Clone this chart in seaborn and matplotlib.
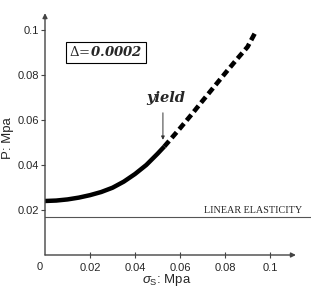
import matplotlib
matplotlib.use("Agg")
import matplotlib.pyplot as plt
import seaborn as sns
import pandas as pd

# ---- data ----
elastic_sigma = [0.0, 0.005, 0.01, 0.015, 0.02, 0.025, 0.03, 0.035, 0.04, 0.045, 0.05, 0.053]
elastic_P = [0.0240, 0.0242, 0.0247, 0.0255, 0.0266, 0.0280, 0.0299, 0.0326, 0.0360, 0.0400, 0.0450, 0.0482]
plastic_sigma = [0.053, 0.06, 0.065, 0.07, 0.075, 0.08, 0.085, 0.09, 0.0935]
plastic_P = [0.0482, 0.0563, 0.0623, 0.0685, 0.0746, 0.0807, 0.0867, 0.0925, 0.0990]
linear_sigma = [0.0, 0.118]
linear_P = [0.017, 0.017]
x_ticks = [0.02, 0.04, 0.06, 0.08, 0.1]
x_tick_labels = ["0.02", "0.04", "0.06", "0.08", "0.1"]
y_ticks = [0.02, 0.04, 0.06, 0.08, 0.1]
y_tick_labels = ["0.02", "0.04", "0.06", "0.08", "0.1"]

sns.set_style("white")
plt.rcParams['font.family'] = ['Liberation Sans', 'DejaVu Sans']
plt.rcParams['mathtext.fontset'] = 'custom'
plt.rcParams['mathtext.rm'] = 'Liberation Sans'
plt.rcParams['mathtext.it'] = 'Liberation Sans:italic'

fig = plt.figure(figsize=(3.11, 2.92), dpi=100)
ax = fig.add_axes([45/311, 37/292, 266/311, 247.5/292])

df_el = pd.DataFrame({"s": elastic_sigma, "P": elastic_P})
df_pl = pd.DataFrame({"s": plastic_sigma, "P": plastic_P})
df_li = pd.DataFrame({"s": linear_sigma, "P": linear_P})

sns.lineplot(data=df_li, x="s", y="P", ax=ax, color="#555555", lw=0.8, sort=False)
sns.lineplot(data=df_el, x="s", y="P", ax=ax, color="black", lw=3.2, sort=False,
             solid_capstyle="butt", solid_joinstyle="round")
sns.lineplot(data=df_pl, x="s", y="P", ax=ax, color="black", lw=3.3, sort=False,
             dashes=False, linestyle=(0, (1.6, 0.9)), dash_capstyle="butt")

ax.set_xlim(0, 0.1182)
ax.set_ylim(0, 0.11)
for sp in ax.spines.values():
    sp.set_visible(False)

# axes with arrows
ax.annotate("", xy=(0.1115, 0), xytext=(0, 0),
            arrowprops=dict(arrowstyle="-|>", color="#444444", lw=1.0,
                            mutation_scale=7, shrinkA=0, shrinkB=0), annotation_clip=False)
ax.annotate("", xy=(0, 0.1075), xytext=(0, 0),
            arrowprops=dict(arrowstyle="-|>", color="#444444", lw=1.0,
                            mutation_scale=7, shrinkA=0, shrinkB=0), annotation_clip=False)

ax.set_xticks(x_ticks)
ax.set_xticklabels(x_tick_labels)
ax.set_yticks(y_ticks)
ax.set_yticklabels(y_tick_labels)
ax.tick_params(axis="x", direction="inout", length=5, width=0.8, color="#444444",
               labelsize=8, pad=3, bottom=True)
ax.tick_params(axis="y", direction="out", length=3, width=0.8, color="#444444",
               labelsize=8, pad=1, left=True)
ax.set_xlabel("")
ax.set_ylabel("")
ax.text(-0.0012, -0.003, "0", ha="right", va="top", fontsize=8)

fig.text(8/311, 1 - 138/292, "P: Mpa", rotation=90, ha="center", va="center", fontsize=9.5)
fig.text(167/311, 1 - 280/292, r"$\sigma_\mathrm{S}$: Mpa", ha="center", va="center", fontsize=9.5)

ax.text(0.1142, 0.0178, "LINEAR ELASTICITY", ha="right", va="bottom",
        fontsize=7.3, family="Liberation Serif")
ax.text(0.0271, 0.0900, r"$\Delta\!=\!\mathbfit{0.0002}$", ha="center", va="center",
        fontsize=9.5, math_fontfamily="dejavuserif",
        bbox=dict(boxstyle="square,pad=0.25", fc="white", ec="black", lw=0.8))
ax.text(0.0535, 0.0665, "yield", ha="center", va="bottom", fontsize=10.5,
        family="DejaVu Serif", style="italic", weight="bold")
ax.annotate("", xy=(0.0524, 0.0512), xytext=(0.0524, 0.0632),
            arrowprops=dict(arrowstyle="-|>", color="#333333", lw=0.7, mutation_scale=5,
                            shrinkA=0, shrinkB=0))

fig.savefig("out.png", dpi=100)
